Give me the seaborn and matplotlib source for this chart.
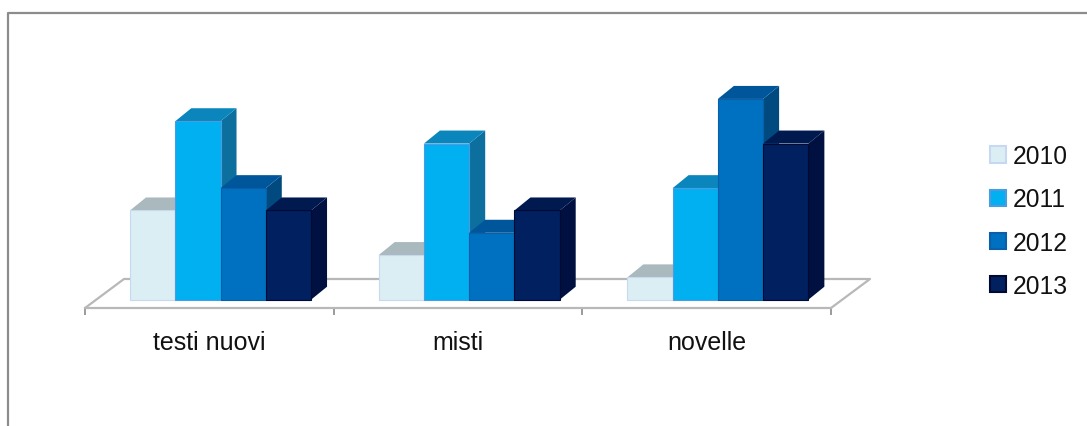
import matplotlib
matplotlib.use("Agg")
import matplotlib.pyplot as plt
import pandas as pd
import seaborn as sns
from matplotlib.lines import Line2D
from matplotlib.patches import Patch, Polygon

# Chart values
categories = ["testi nuovi", "misti", "novelle"]
years = ["2010", "2011", "2012", "2013"]
values_2010 = [4, 2, 1]
values_2011 = [8, 7, 5]
values_2012 = [5, 3, 9]
values_2013 = [4, 4, 7]

# Colours for each face of the blocks
front_colors = ["#DAEEF3", "#00B0F0", "#0070C0", "#002060"]
top_colors = ["#A9B9BD", "#0A86BC", "#00569A", "#001A50"]
side_colors = ["#A9B9BD", "#0C6F9E", "#004A80", "#001040"]
edge_colors = ["#C6D9F1", "#4A9BE0", "#0A5FA8", "#000A30"]

W, H = 1087, 427
FLOOR_COLOR = "#B8B8B8"
TICK_COLOR = "#8A8A8A"

sns.set_theme(style="white")
plt.rcParams["font.family"] = ["Liberation Sans", "DejaVu Sans"]

table = pd.DataFrame({
    "category": categories * len(years),
    "year": [y for y in years for _ in categories],
    "value": values_2010 + values_2011 + values_2012 + values_2013,
})

fig = plt.figure(figsize=(W / 100, H / 100), dpi=100, facecolor="white")
ax = fig.add_axes([85 / W, (H - 309) / H, 746 / W, 249 / H])

sns.barplot(
    data=table, x="category", y="value", hue="year",
    order=categories, hue_order=years, palette=front_colors,
    width=0.728, gap=0, saturation=1, legend=False, ax=ax,
)

# The plane sits slightly below zero and bars stand at the middle of its depth
ax.set_xlim(-0.545, 2.455)
ax.set_ylim(-0.372, 10.79)
ax.set_facecolor("none")
ax.patch.set_visible(False)

# Depth of a block and of the floor, in data units
BAR_DX, BAR_DY = 16 / 248.67, 13 / 22.3
FLOOR_DX, FLOOR_DY = 39 / 248.67, 29 / 22.3

# Extrude every bar with a top and a side face, painted left to right
for h, container in enumerate(ax.containers):
    for patch in container:
        x0, w, v = patch.get_x(), patch.get_width(), patch.get_height()
        x1 = x0 + w
        z = 3 + 3 * h
        patch.set_edgecolor(edge_colors[h])
        patch.set_linewidth(0.8)
        patch.set_zorder(z + 2)
        ax.add_patch(Polygon(
            [(x1, 0), (x1 + BAR_DX, BAR_DY), (x1 + BAR_DX, v + BAR_DY), (x1, v)],
            closed=True, facecolor=side_colors[h], edgecolor="none",
            zorder=z, clip_on=False))
        ax.add_patch(Polygon(
            [(x0, v), (x0 + BAR_DX, v + BAR_DY), (x1 + BAR_DX, v + BAR_DY), (x1, v)],
            closed=True, facecolor=top_colors[h], edgecolor="none",
            zorder=z + 1, clip_on=False))

# Floor outline behind the blocks
xa, xb = ax.get_xlim()
ya = ax.get_ylim()[0]
ax.plot([xa, xa + FLOOR_DX, xb + FLOOR_DX, xb],
        [ya, ya + FLOOR_DY, ya + FLOOR_DY, ya],
        color=FLOOR_COLOR, lw=1.6, zorder=1, clip_on=False)

# Category boundaries carry the tick marks, labels sit between them
for name in ["top", "left", "right"]:
    ax.spines[name].set_visible(False)
ax.spines["bottom"].set_color(FLOOR_COLOR)
ax.spines["bottom"].set_linewidth(1.6)
ax.set_yticks([])
ax.set_xlabel("")
ax.set_ylabel("")
ax.set_xticks([xa + k for k in range(len(categories) + 1)])
ax.set_xticklabels([])
ax.set_xticks([xa + k + 0.5 for k in range(len(categories))], minor=True)
ax.set_xticklabels(categories, minor=True, fontsize=18, color="#111111")
ax.tick_params(axis="x", which="major", bottom=True, length=5, width=1.2,
               color=TICK_COLOR)
ax.tick_params(axis="x", which="minor", bottom=False, length=0, pad=16)

# Legend on the right of the plot
handles = [Patch(facecolor=f, edgecolor=e, linewidth=1.5)
           for f, e in zip(front_colors, edge_colors)]
fig.legend(
    handles, years, loc="center left", frameon=False, fontsize=17.7,
    bbox_to_anchor=(990 / W, (H - 222) / H), bbox_transform=fig.transFigure,
    labelspacing=0.78, handlelength=0.64, handleheight=0.64,
    handletextpad=0.3, borderpad=0, borderaxespad=0, labelcolor="#111111",
)

# Chart frame, running off the top right and bottom left of the canvas
fig.add_artist(Line2D([8 / W, 8 / W, 1], [0, (H - 14) / H, (H - 14) / H],
                      transform=fig.transFigure, color="#8C8C8C", lw=1.6))

fig.savefig("out.png", dpi=100)
